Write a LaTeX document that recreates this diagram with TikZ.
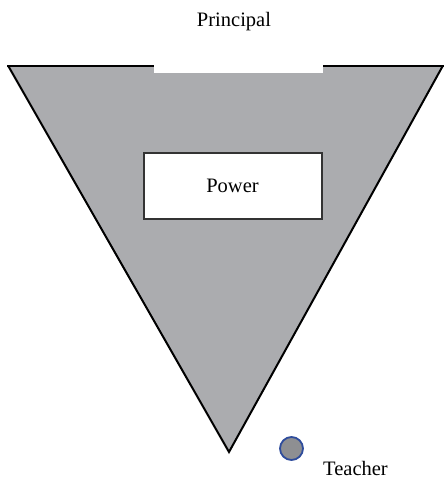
\documentclass[tikz,border=0pt]{standalone}
\usepackage{fontspec}
\setmainfont{Liberation Serif}
\definecolor{grisfond}{HTML}{ABACAF}
\definecolor{griscercle}{HTML}{8E8F92}
\definecolor{bleucercle}{HTML}{2E4C9C}
\begin{document}
\begin{tikzpicture}[x=1pt,y=-1pt]
			% Styles
			\tikzstyle{bord}=[line width=2pt,black,line join=miter]
			\tikzstyle{texte}=[font=\rmfamily\fontsize{20.5}{24}\selectfont,inner sep=0pt]
			\tikzstyle{boite}=[draw=black!80,line width=2pt,fill=white,minimum width=178pt,minimum height=66pt]
			\tikzstyle{pion}=[circle,draw=bleucercle,line width=1.8pt,fill=griscercle,minimum size=23pt,inner sep=0pt]
			% Dimensions
			\def\Haut{65.5}
			\def\Gauche{8}
			\def\Droite{443}
			% Cadre
			\useasboundingbox (0,0) rectangle (446,480);
			% Triangle
			\fill[grisfond] (\Gauche,\Haut) -- (\Droite,\Haut) -- (229,452) -- cycle;
			\draw[bord] (\Gauche,\Haut) -- (229,452) -- (\Droite,\Haut);
			\draw[bord] (\Gauche-0.8,\Haut) -- (154,\Haut);
			\draw[bord] (323,\Haut) -- (\Droite+0.8,\Haut);
			\fill[white] (154,58) rectangle (323,73);
			% Noeuds
			\node[texte] (principal) at (234,22) {Principal};
			\node[boite,texte] (pouvoir) at (232.5,186) {Power};
			\node[pion] (pion) at (291.5,448.5) {};
			\node[texte,anchor=base] (enseignant) at (355.5,475.5) {Teacher};
\end{tikzpicture}
\end{document}
